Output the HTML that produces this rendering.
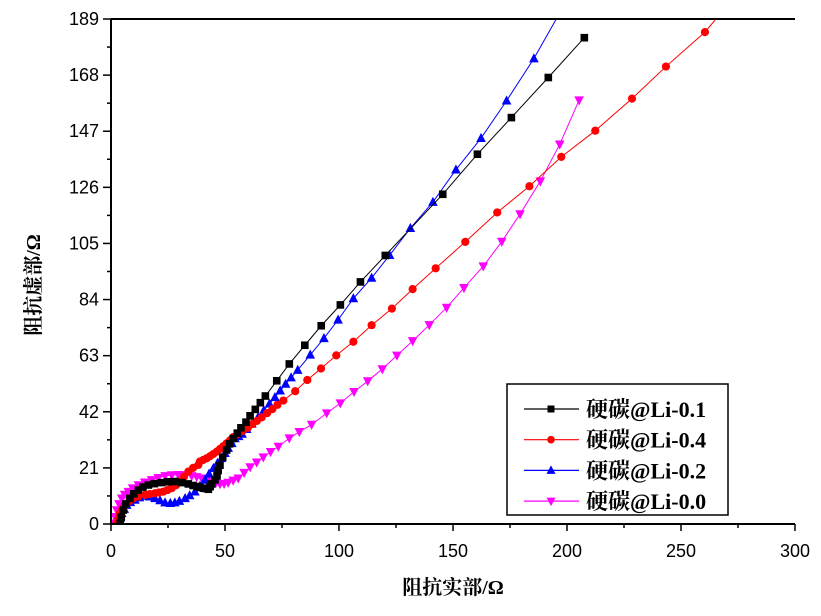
<!DOCTYPE html>
<html><head><meta charset="utf-8"><style>
body{margin:0;background:#fff}
svg text{font-family:"Liberation Sans",Arial,sans-serif}
svg text.serif{font-family:"Liberation Serif","Noto Serif CJK SC",serif}
</style></head><body>
<svg id="chart" width="821" height="611" viewBox="0 0 821 611" xmlns="http://www.w3.org/2000/svg">
<g id="plot"></g>
<g id="axes"></g>
</svg>
<script>
const xTicks=[0,50,100,150,200,250,300];
const yTicks=[0,21,42,63,84,105,126,147,168,189];
const seriesNames=["硬碳@Li-0.1","硬碳@Li-0.4","硬碳@Li-0.2","硬碳@Li-0.0"];
const seriesColors=["#000000","#ff0000","#0000ff","#ff00ff"];
const blackX=[4,4.5,5.4,6.5,8.3,10,12,14,16.4,19,22.2,25,28,31,33.9,36,38,39,40.5,41.5,42.7,43.5,44.2,45.6,46.5,47,47.8,49,50.7,52,53.6,55.4,57,59.2,61,63.3,65.5,67.7,72.7,78.2,85,92.2,100.6,109.4,120.3,145.5,160.7,175.6,191.8,207.6];
const blackY=[0.3,2.5,5.2,7.5,9.6,11.3,12.7,13.8,14.6,15.1,15.5,15.8,15.9,15.5,15,14.4,14,13.7,13.4,13.3,13,14,15,16.5,18,20,22,25,27.7,30,32,34,36,38.1,40.5,42.9,45.4,47.9,53.6,59.9,66.9,74.2,82,90.6,100.5,123.4,138.4,152.1,167.1,182];
const redX=[2.5,3.2,3.9,5,6.1,8,9.8,12,14.9,17,19.3,21,22.9,24.8,26.6,28.5,30.3,32,33.9,36,38.3,39,40.5,42,43.5,44.9,46.4,47.8,49.2,50.7,52.2,53.6,55.5,57.7,60,62,64,66.1,68.5,70.8,73,75.6,80.8,86.1,92.1,98.8,106.3,114.3,123.2,132.3,142.4,155.4,169.4,183.5,197.5,212.4,228.5,243.4,260.5,265.6];
const redY=[0.3,2,4,5.6,7.1,8.5,9.6,10.3,10.9,11.2,11.5,11.8,12.1,12.7,13.4,14.5,15.9,17.7,19.6,21,22.1,23.4,24,24.6,25.4,26.2,27.1,28.1,29.1,30.2,31.3,32.5,33.6,34.8,36,37.4,38.6,39.9,41.5,43,44.6,46.2,49.7,53.9,58.2,63.1,68.2,74.4,80.6,87.9,95.7,105.6,116.6,126.4,137.4,147.2,159.2,171.2,184.1,189.3];
const blueX=[3.2,4,4.7,5.8,6.9,8.5,10.5,12.5,14.9,17,19.3,21.5,23.7,26,28,30,32.5,34.5,36.8,39,41.2,43,44.9,46.7,48.5,50,51.4,53,54.4,56,57.5,59.5,61.8,64.5,67,69.5,71.9,74.2,76.6,79,81.9,87.4,93.4,99.6,106.3,114.3,122.2,131.3,141.2,151.3,162.3,173.5,185.5,195.5];
const blueY=[0.3,2.2,4,5.6,7.1,8.1,9,9.9,10.5,10.2,9.6,8.8,8,7.8,8,8.6,9.6,10.7,12.1,14.2,16.5,18.8,20.9,22.8,24.6,26.5,28.4,30.2,32,32.8,33.7,35.5,37.5,40,42.5,45,47.4,49.9,52.4,54.8,57.6,63.3,69.5,76.4,84.4,92.1,100.6,110.7,120.5,132.6,144.4,158.4,174.2,189.3];
const magX=[1,1.7,2.5,3.5,4.7,6,7.6,9.5,12,14.8,17.8,20.7,23.7,26.6,29.5,32.5,35.4,37.6,39.8,42,44.2,46,47.8,49.6,51.4,53.6,55.8,58.4,61,63.9,66.8,70,73.4,78.2,82.6,88,94.6,100.6,106.6,112.6,119,125.4,132.3,139.6,147.2,154.8,163.3,171.4,179.4,188.3,196.8,205.3];
const magY=[0.3,2.7,5.2,7.5,9.6,11,12.1,13.4,14.6,15.6,16.5,17.3,18,18.3,18.4,18.3,18,17.6,17.1,16.5,15.9,15.4,15,15.1,15.5,16.3,17.1,19.2,21.3,23.1,25,27,29,32.1,34.5,37.2,41.5,45.2,49.5,53.5,58,63.1,68.5,74.5,81,88.4,96.5,105.7,116,128.3,142.1,158.6];
const seriesX=[blackX,redX,blueX,magX];
const seriesY=[blackY,redY,blueY,magY];

const X0=111,X1=795,Y0=524,Y1=19;
const xs=v=>X0+(v-0)/(300-0)*(X1-X0);
const ys=v=>Y0-(v-0)/(189-0)*(Y0-Y1);
const NS="http://www.w3.org/2000/svg";
function mk(tag,attrs,parent){const e=document.createElementNS(NS,tag);for(const k in attrs)e.setAttribute(k,attrs[k]);parent.appendChild(e);return e;}
const plot=document.getElementById('plot'),axes=document.getElementById('axes');

function marker(i,cx,cy,parent,s){
  const c=seriesColors[i];let e;
  if(i===0){e=mk('rect',{x:cx-s,y:cy-s,width:2*s,height:2*s,fill:c},parent);}
  else if(i===1){e=mk('circle',{cx:cx,cy:cy,r:s+0.3,fill:c},parent);}
  else if(i===2){e=mk('polygon',{points:`${cx},${cy-s-1.5} ${cx-s-1},${cy+s} ${cx+s+1},${cy+s}`,fill:c},parent);}
  else{e=mk('polygon',{points:`${cx},${cy+s+1.5} ${cx-s-1},${cy-s} ${cx+s+1},${cy-s}`,fill:c},parent);}
  return e;
}
const clip=mk('clipPath',{id:'pc'},mk('defs',{},plot));
mk('rect',{x:X0,y:Y1,width:X1-X0,height:Y0-Y1},clip);
const pg=mk('g',{'clip-path':'url(#pc)'},plot);
for(let i=3;i>=0;i--){
  const g=mk('g',{},pg);
  
  
  const pts=seriesX[i].map((x,j)=>xs(x)+','+ys(seriesY[i][j])).join(' ');
  const pl=mk('polyline',{points:pts,fill:'none',stroke:seriesColors[i],'stroke-width':1},g);
  
  
  seriesX[i].forEach((x,j)=>{
    if(seriesY[i][j]>188)return;
    const m=marker(i,xs(x),ys(seriesY[i][j]),g,3.8);
    
    
  });
}
mk('path',{d:`M${X0},${Y1}H${X1}`,stroke:'#000','stroke-width':2,fill:'none'},axes);
mk('path',{d:`M${X0},${Y1}V${Y0}H${X1}`,stroke:'#000','stroke-width':2,fill:'none'},axes);
xTicks.forEach((t,k)=>{
  const x=xs(t);
  mk('line',{x1:x,y1:Y0,x2:x,y2:Y0+7,stroke:'#000','stroke-width':1.5},axes);
  if(k<xTicks.length-1){const xm=xs(t+25);mk('line',{x1:xm,y1:Y0,x2:xm,y2:Y0+4,stroke:'#000','stroke-width':1.5},axes);}
  const tx=mk('text',{x:x,y:Y0+33,'font-size':18,'text-anchor':'middle'},axes);tx.textContent=t;
  
  
});
yTicks.forEach((t,k)=>{
  const y=ys(t);
  mk('line',{x1:X0,y1:y,x2:X0-8,y2:y,stroke:'#000','stroke-width':1.5},axes);
  if(k<yTicks.length-1){const ym=ys(t+10.5);mk('line',{x1:X0,y1:ym,x2:X0-4,y2:ym,stroke:'#000','stroke-width':1.5},axes);}
  const tx=mk('text',{x:X0-12,y:y+6,'font-size':18,'text-anchor':'end'},axes);tx.textContent=t;
  
  
});
const xt=mk('text',{x:453,y:594,'font-size':20,'font-weight':'bold','text-anchor':'middle','class':'serif'},axes);
xt.textContent='阻抗实部/Ω';


const yt=mk('text',{x:0,y:0,'font-size':20,'font-weight':'bold','text-anchor':'middle','transform':'translate(40,285) rotate(-90)','class':'serif'},axes);
yt.textContent='阻抗虚部/Ω';


const lg=mk('g',{},axes);


mk('rect',{x:507,y:384,width:221,height:131,fill:'#fff',stroke:'#000','stroke-width':1.5},lg);
[0,1,2,3].forEach(i=>{
  const y=409+i*30.7;
  const e=mk('g',{},lg);
  
  
  mk('line',{x1:524,y1:y,x2:579,y2:y,stroke:seriesColors[i],'stroke-width':1.2},e);
  marker(i,551,y,e,3.5);
  const t=mk('text',{x:586,y:y+8,'font-size':22,'font-weight':'bold','class':'serif'},e);
  t.textContent=seriesNames[i];
});
</script>
</body></html>
